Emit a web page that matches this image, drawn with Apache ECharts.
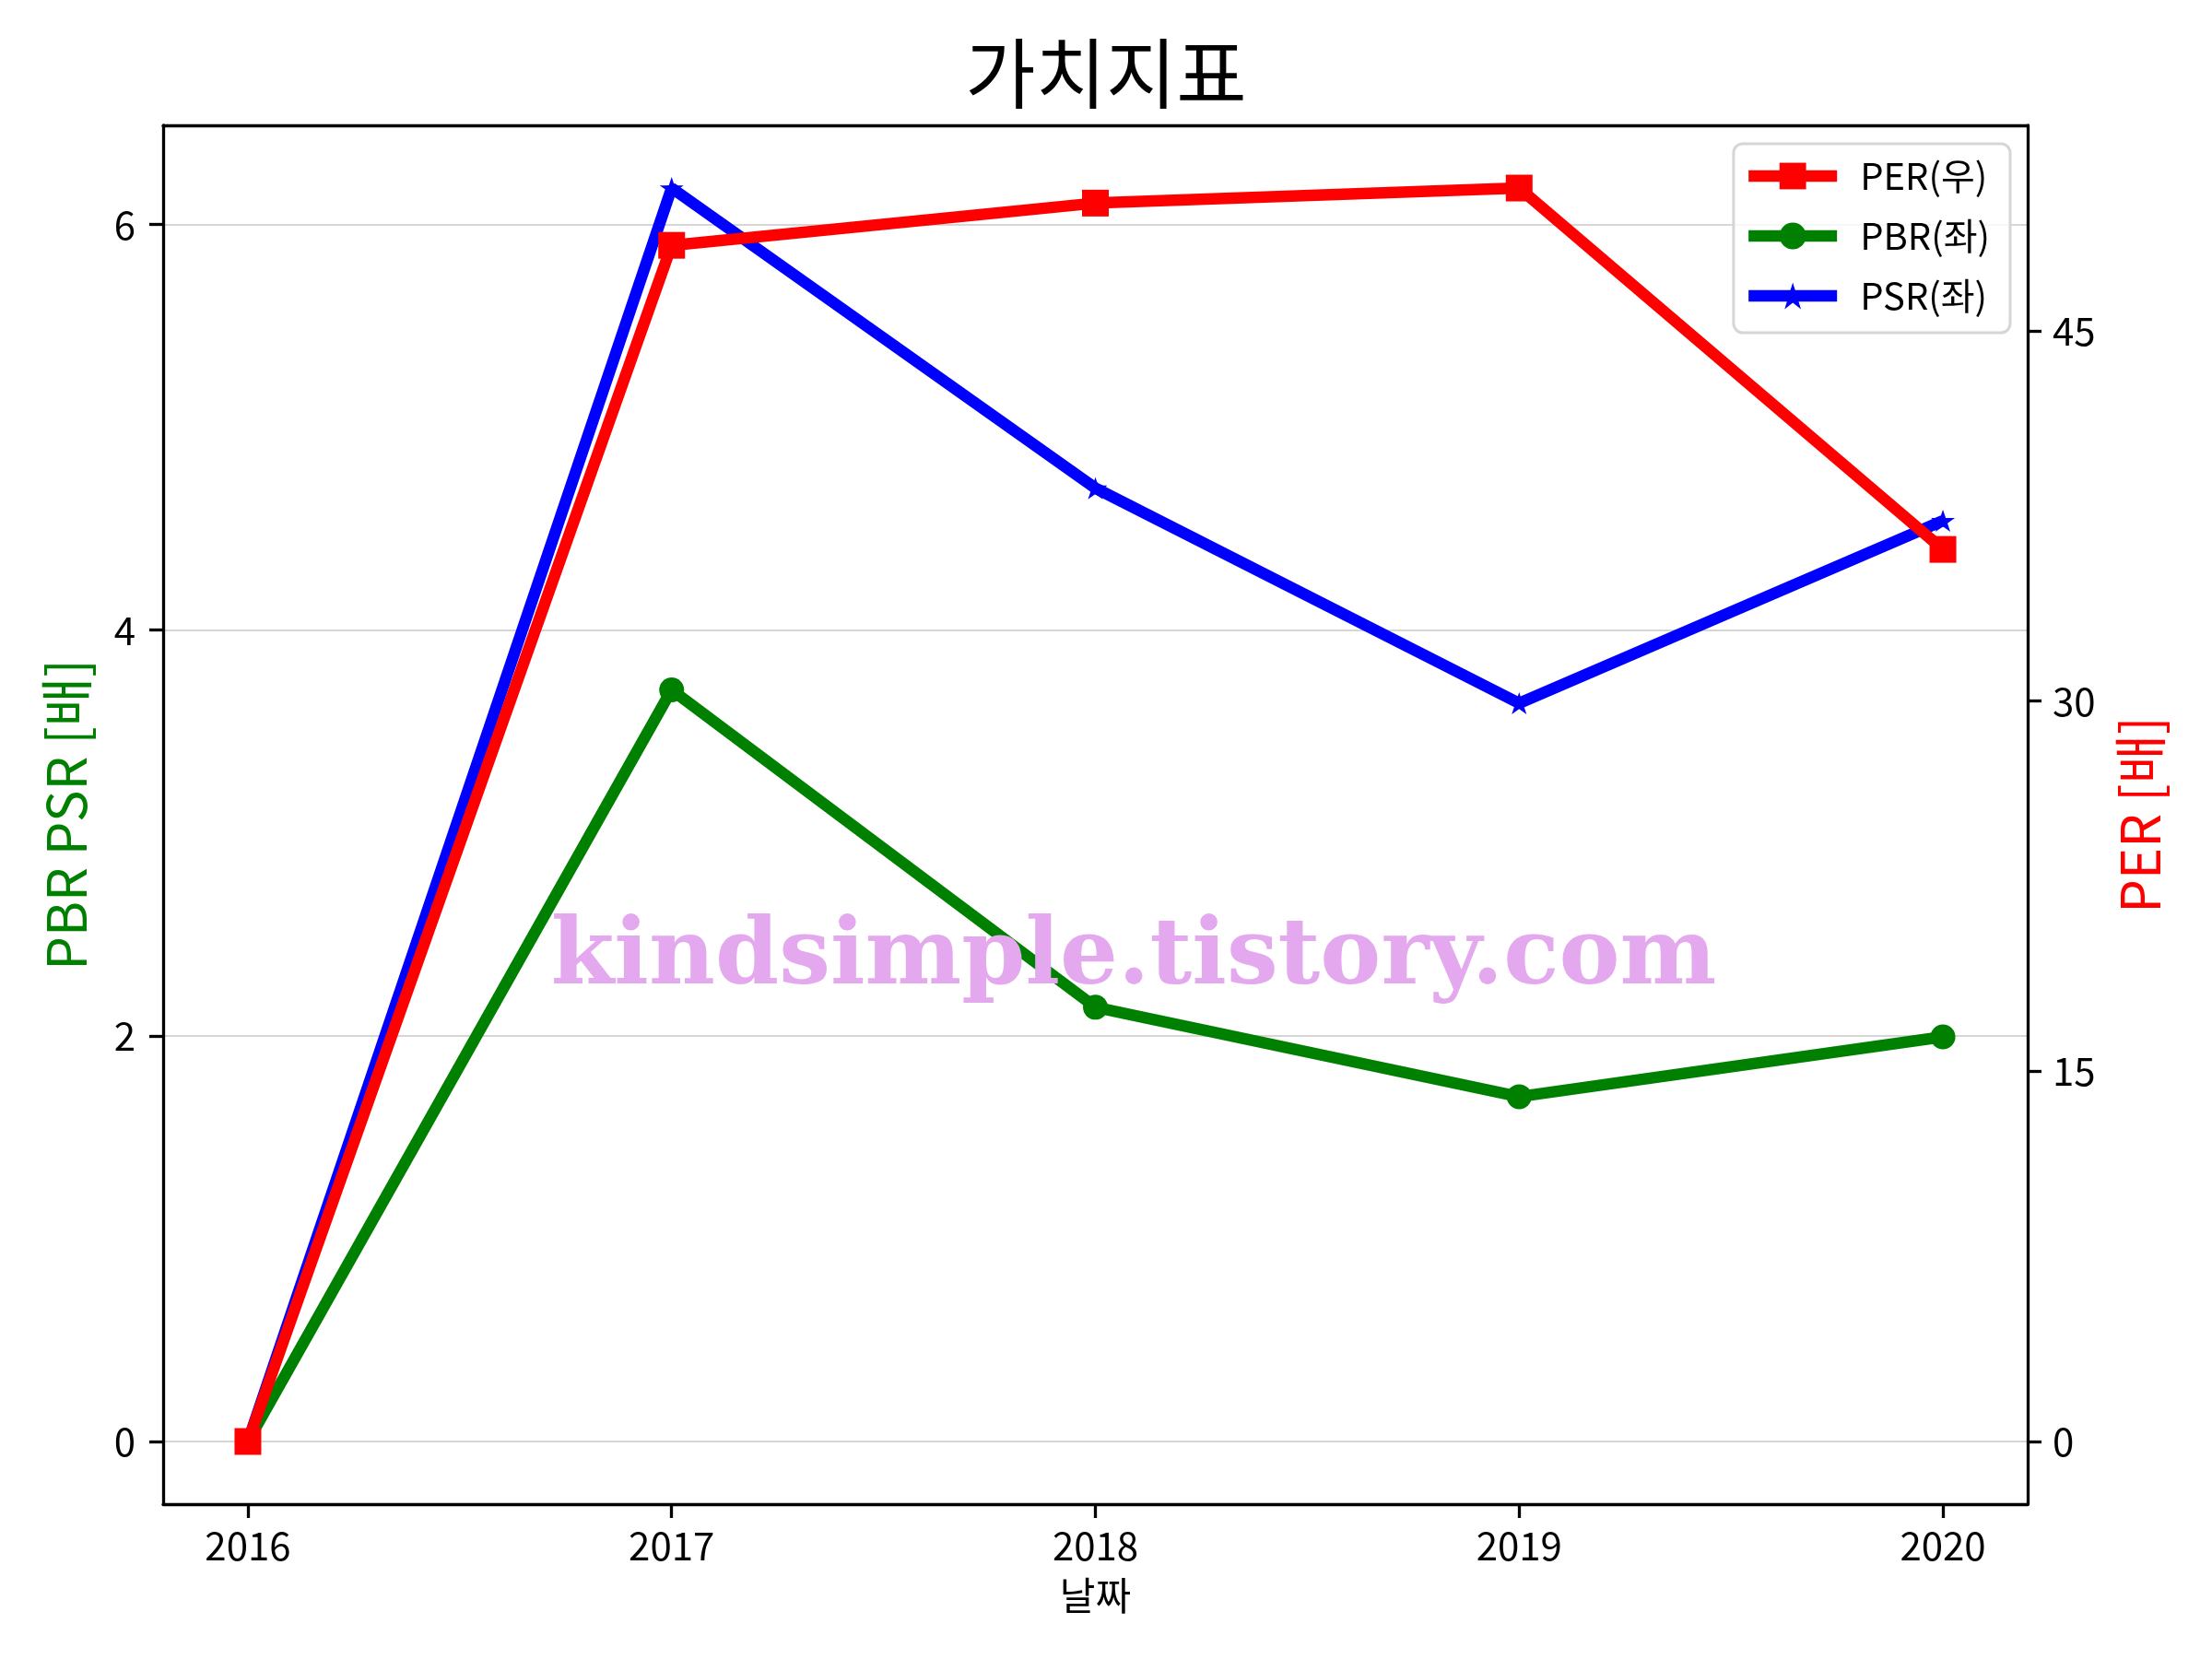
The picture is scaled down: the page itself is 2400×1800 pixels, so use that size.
<!DOCTYPE html>
<html>
<head>
<meta charset="utf-8">
<script src="https://cdn.jsdelivr.net/npm/echarts@6/dist/echarts.min.js"></script>
<style>
html,body{margin:0;padding:0;background:#fff;}
#chart{width:2400px;height:1800px;}
</style>
</head>
<body>
<div id="chart"></div>
<script>
const years = [2016, 2017, 2018, 2019, 2020];
const perValues = [0, 48.46, 50.17, 50.78, 36.14];
const pbrValues = [0, 3.706, 2.141, 1.70, 1.995];
const psrValues = [0, 6.18, 4.70, 3.64, 4.54];
const leftTicks = [0, 2, 4, 6];
const rightTicks = [0, 15, 30, 45];
const xTicks = [2016, 2017, 2018, 2019, 2020];

const FONT = '"Noto Sans CJK KR", "Noto Sans", sans-serif';
const STAR = 'path://M0,-1 L0.2245,-0.309 L0.951,-0.309 L0.3633,0.118 L0.5878,0.809 L0,0.382 L-0.5878,0.809 L-0.3633,0.118 L-0.951,-0.309 L-0.2245,-0.309 Z';

const pair = (vals) => years.map((y, i) => [y, vals[i]]);

const chart = echarts.init(document.getElementById('chart'), null, {renderer: 'canvas'});
chart.setOption({
  backgroundColor: '#ffffff',
  animation: false,
  textStyle: {fontFamily: FONT},
  title: {
    text: '가치지표',
    left: 'center',
    top: 38,
    padding: 0,
    textStyle: {fontFamily: FONT, fontSize: 83, fontWeight: 'normal', color: '#000'}
  },
  grid: {left: 177, right: 200, top: 136, bottom: 168, containLabel: false},
  legend: {
    data: ['PER(우)', 'PBR(좌)', 'PSR(좌)'],
    orient: 'vertical',
    right: 219,
    top: 156,
    itemWidth: 96,
    itemHeight: 36,
    itemGap: 25,
    padding: [15, 22, 20, 10],
    backgroundColor: 'rgba(255,255,255,0.8)',
    borderColor: '#d6d6d6',
    borderWidth: 3,
    borderRadius: 10,
    lineStyle: {width: 12.5},
    textStyle: {fontFamily: FONT, fontSize: 40, color: '#000', padding: [0, 0, 0, 20]}
  },
  xAxis: [{
    type: 'value',
    min: 2015.8,
    max: 2020.2,
    position: 'bottom',
    name: '날짜',
    nameLocation: 'middle',
    nameGap: 78,
    nameTextStyle: {fontFamily: FONT, fontSize: 42, color: '#000'},
    axisLine: {show: true, onZero: false, lineStyle: {color: '#000', width: 3.3}},
    axisTick: {show: true, inside: false, length: 15, lineStyle: {color: '#000', width: 3.3}, customValues: xTicks},
    axisLabel: {show: true, margin: 24, fontFamily: FONT, fontSize: 42, color: '#000', customValues: xTicks, formatter: (v) => String(v)},
    splitLine: {show: false}
  }, {
    type: 'value',
    min: 2015.8,
    max: 2020.2,
    position: 'top',
    axisLine: {show: true, onZero: false, lineStyle: {color: '#000', width: 3.3}},
    axisTick: {show: false},
    axisLabel: {show: false},
    splitLine: {show: false}
  }],
  yAxis: [{
    type: 'value',
    min: -0.309,
    max: 6.489,
    position: 'left',
    name: 'PBR PSR [배]',
    nameLocation: 'middle',
    nameGap: 76,
    nameRotate: 90,
    nameTextStyle: {fontFamily: FONT, fontSize: 58, color: '#008000'},
    axisLine: {show: true, onZero: false, lineStyle: {color: '#000', width: 3.3}},
    axisTick: {show: true, inside: false, length: 15, lineStyle: {color: '#000', width: 3.3}, customValues: leftTicks},
    axisLabel: {show: true, margin: 30, fontFamily: FONT, fontSize: 42, color: '#000', customValues: leftTicks, formatter: (v) => String(v)},
    splitLine: {show: true, lineStyle: {color: '#d6d6d6', width: 2}}
  }, {
    type: 'value',
    min: -2.539,
    max: 53.32,
    position: 'right',
    name: 'PER [배]',
    nameLocation: 'middle',
    nameGap: 93,
    nameRotate: 90,
    nameTextStyle: {fontFamily: FONT, fontSize: 58, color: '#ff0000'},
    axisLine: {show: true, onZero: false, lineStyle: {color: '#000', width: 3.3}},
    axisTick: {show: true, inside: false, length: 15, lineStyle: {color: '#000', width: 3.3}, customValues: rightTicks},
    axisLabel: {show: true, margin: 27, fontFamily: FONT, fontSize: 42, color: '#000', customValues: rightTicks, formatter: (v) => String(v)},
    splitLine: {show: false}
  }],
  series: [{
    name: 'PBR(좌)',
    type: 'line',
    xAxisIndex: 0,
    yAxisIndex: 0,
    data: pair(pbrValues),
    symbol: 'circle',
    symbolSize: 27,
    showAllSymbol: true,
    lineStyle: {color: '#008000', width: 12.5},
    itemStyle: {color: '#008000', borderWidth: 0},
    z: 2
  }, {
    name: 'PSR(좌)',
    type: 'line',
    xAxisIndex: 0,
    yAxisIndex: 0,
    data: pair(psrValues),
    symbol: STAR,
    symbolSize: [26, 24],
    showAllSymbol: true,
    lineStyle: {color: '#0000ff', width: 12.5},
    itemStyle: {color: '#0000ff', borderWidth: 0},
    z: 3
  }, {
    name: 'PER(우)',
    type: 'line',
    xAxisIndex: 0,
    yAxisIndex: 1,
    data: pair(perValues),
    symbol: 'rect',
    symbolSize: 29,
    showAllSymbol: true,
    lineStyle: {color: '#ff0000', width: 12.5},
    itemStyle: {color: '#ff0000', borderWidth: 0},
    z: 4
  }],
  graphic: [{
    type: 'text',
    x: 1230,
    y: 1041,
    z: 100,
    style: {
      text: 'kindsimple.tistory.com',
      x: 0,
      y: 0,
      align: 'center',
      verticalAlign: 'middle',
      font: 'bold 99px "DejaVu Serif", serif',
      fill: '#e4a8ee'
    }
  }]
});
</script>
</body>
</html>
